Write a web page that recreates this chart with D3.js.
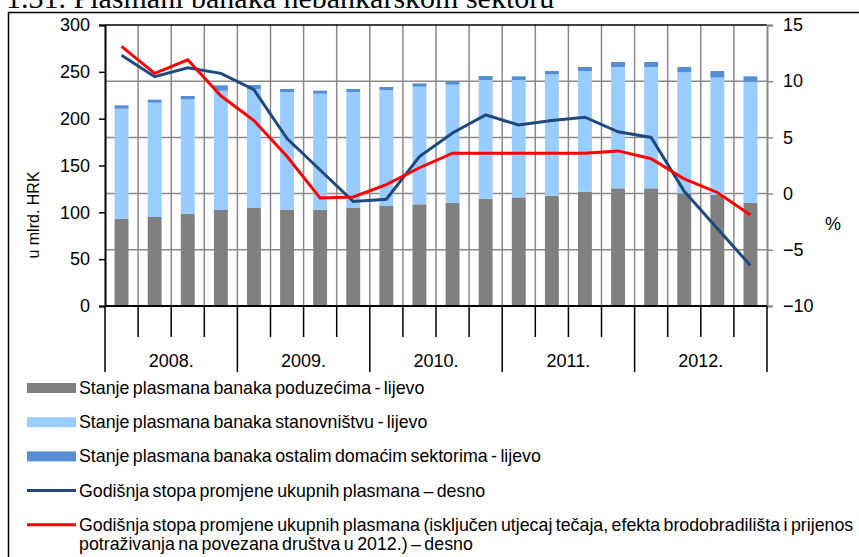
<!DOCTYPE html>
<html>
<head>
<meta charset="utf-8">
<script src="https://cdn.jsdelivr.net/npm/d3@7"></script>
<style>
    body { margin: 0; background: #fff; }
    text { font-family: "Liberation Sans", Arial, sans-serif; fill: #000; }
</style>
</head>
<body>
<div class="chart"></div>
<script>
// Data (quarters 2008 - 2012)
const years = ["2008.", "2009.", "2010.", "2011.", "2012."];
const quarters = ["I.", "II.", "III.", "IV."];

// stacked bars, left axis (mlrd. HRK)
const poduzecima = [93, 95, 98.6, 102.5, 104.6, 102.5, 102.5, 104.6, 106.8, 108.6,
    110.3, 114.6, 116, 117.8, 122, 125.6, 125.6, 120.3, 118.5, 110.3];
const stanovnistvu = [117.6, 122, 122, 127.4, 127.1, 126, 124.2, 123.9, 123.5, 125.5,
    126, 126.7, 125.3, 129.5, 128.9, 129.6, 129.6, 129.2, 125.3, 129.2];
const ostalim = [3.6, 3.3, 3.6, 5.7, 4.3, 3.2, 3.2, 3.2, 3.5, 3.6,
    3.6, 4.2, 3.9, 3.6, 4.3, 5.3, 5.3, 5.7, 7.1, 5.7];

// lines, right axis (%)
const stopaUkupno = [12.3, 10.4, 11.2, 10.7, 9.25, 4.9, 2.1, -0.7, -0.5, 3.3,
    5.4, 7.0, 6.1, 6.5, 6.8, 5.5, 5.0, 0.2, -3.1, -6.4];
const stopaBezUtjecaja = [13.1, 10.7, 11.9, 8.7, 6.5, 3.3, -0.4, -0.3, 0.8, 2.3,
    3.6, 3.6, 3.6, 3.6, 3.6, 3.8, 3.1, 1.3, 0.1, -1.9];

const leftTicks = [0, 50, 100, 150, 200, 250, 300];
const rightTicks = [-10, -5, 0, 5, 10, 15];

const legendItems = [
    {type: "bar", color: "#808080", text: ["Stanje plasmana banaka poduzećima - lijevo"]},
    {type: "bar", color: "#99ccff", text: ["Stanje plasmana banaka stanovništvu - lijevo"]},
    {type: "bar", color: "#558ed5", text: ["Stanje plasmana banaka ostalim domaćim sektorima - lijevo"]},
    {type: "line", color: "#1f497d", text: ["Godišnja stopa promjene ukupnih plasmana – desno"]},
    {type: "line", color: "#ff0000", text: ["Godišnja stopa promjene ukupnih plasmana (isključen utjecaj tečaja, efekta brodobradilišta i prijenos",
        "potraživanja na povezana društva u 2012.) – desno"]}
];

const W = 859, H = 557;
const Margin = {top: 25, right: 92, bottom: 251, left: 105},
    Width = W - Margin.left - Margin.right,
    Height = H - Margin.top - Margin.bottom;

const categories = [];
years.forEach(y => quarters.forEach(q => categories.push(y + " " + q)));

const data = categories.map((c, i) => ({
    cat: c,
    poduzecima: poduzecima[i],
    stanovnistvu: stanovnistvu[i],
    ostalim: ostalim[i],
    ukupno: stopaUkupno[i],
    bez: stopaBezUtjecaja[i]
}));

const svg = d3.select(".chart").append("svg")
    .attr("width", W).attr("height", H);

// title (cut off at the top in the original)
svg.append("text")
    .attr("x", 6).attr("y", 8)
    .style("font-family", "'Liberation Serif', 'Times New Roman', serif")
    .style("font-size", "30px")
    .text("1.31. Plasmani banaka nebankarskom sektoru");

// outer frame
svg.append("rect")
    .attr("x", 8.5).attr("y", 12.5)
    .attr("width", 900).attr("height", 600)
    .attr("fill", "none").attr("stroke", "#000").attr("stroke-width", 1.5);

const g = svg.append("g")
    .attr("transform", "translate(" + Margin.left + "," + Margin.top + ")");

const x = d3.scaleBand().domain(categories).range([0, Width])
    .paddingInner(0.58).paddingOuter(0.29);
const yL = d3.scaleLinear().domain([0, 300]).range([Height, 0]);
const yR = d3.scaleLinear().domain([-10, 15]).range([Height, 0]);
const step = x.step();
const x0 = x(categories[0]) - x.paddingOuter() * step;

// gridlines (right axis values) and vertical category lines
const gridColor = "#8a8a8a";
g.append("g").selectAll("line").data(rightTicks.slice(1, -1)).join("line")
    .attr("x1", 0).attr("x2", Width)
    .attr("y1", d => yR(d)).attr("y2", d => yR(d))
    .attr("stroke", gridColor).attr("stroke-width", 1.5);
g.append("g").selectAll("line").data(d3.range(1, categories.length)).join("line")
    .attr("x1", i => x0 + i * step).attr("x2", i => x0 + i * step)
    .attr("y1", 0).attr("y2", Height)
    .attr("stroke", gridColor).attr("stroke-width", 1.5);

// stacked bars
const keys = ["poduzecima", "stanovnistvu", "ostalim"];
const colors = ["#808080", "#99ccff", "#558ed5"];
const color = d3.scaleOrdinal().domain(keys).range(colors);
const stacked = d3.stack().keys(keys)(data);

g.append("g").selectAll("g").data(stacked).join("g")
    .attr("fill", d => color(d.key))
    .selectAll("rect").data(d => d).join("rect")
    .attr("x", d => x(d.data.cat))
    .attr("width", x.bandwidth())
    .attr("y", d => yL(d[1]))
    .attr("height", d => yL(d[0]) - yL(d[1]));

// lines
const lineFor = key => d3.line()
    .x(d => x(d.cat) + x.bandwidth() / 2)
    .y(d => yR(d[key]));

g.append("path").datum(data)
    .attr("fill", "none").attr("stroke", "#1f497d").attr("stroke-width", 3)
    .attr("d", lineFor("ukupno"));
g.append("path").datum(data)
    .attr("fill", "none").attr("stroke", "#ff0000").attr("stroke-width", 3)
    .attr("d", lineFor("bez"));

// top border of the plot
g.append("line").attr("x1", 0).attr("x2", Width).attr("y1", 0).attr("y2", 0)
    .attr("stroke", "#000").attr("stroke-width", 1.5);

// left axis
const leftAxis = g.append("g")
    .call(d3.axisLeft(yL).tickValues(leftTicks).tickSize(6).tickPadding(9));
leftAxis.select(".domain").attr("stroke", "#000").attr("stroke-width", 2);
leftAxis.selectAll(".tick line").attr("stroke", "#000").attr("stroke-width", 1.5);
leftAxis.selectAll("text").style("font-size", "18px").attr("font-family", null);

// right axis
const rightAxis = g.append("g")
    .attr("transform", "translate(" + Width + ",0)")
    .call(d3.axisRight(yR).tickValues(rightTicks).tickSize(6).tickPadding(10));
rightAxis.select(".domain").attr("stroke", gridColor).attr("stroke-width", 2);
rightAxis.selectAll(".tick line").attr("stroke", gridColor).attr("stroke-width", 1.5);
rightAxis.selectAll("text").style("font-size", "18px").attr("font-family", null);

// bottom axis with category ticks, long ticks between years
g.append("line").attr("x1", 0).attr("x2", Width).attr("y1", Height).attr("y2", Height)
    .attr("stroke", "#000").attr("stroke-width", 2);
g.append("g").selectAll("line").data(d3.range(0, categories.length + 1)).join("line")
    .attr("x1", i => x0 + i * step).attr("x2", i => x0 + i * step)
    .attr("y1", Height)
    .attr("y2", i => Height + (i % quarters.length === 0 ? 66 : 31))
    .attr("stroke", "#000").attr("stroke-width", 1.5);
g.append("g").selectAll("text").data(years).join("text")
    .attr("x", (d, i) => x0 + (i + 0.5) * quarters.length * step)
    .attr("y", Height + 61)
    .attr("text-anchor", "middle")
    .style("font-size", "18px")
    .text(d => d);

// axis titles
svg.append("text")
    .attr("transform", "translate(39,215) rotate(-90)")
    .attr("text-anchor", "middle")
    .style("font-size", "16px")
    .text("u mlrd. HRK");
svg.append("text")
    .attr("x", 833).attr("y", 230)
    .attr("text-anchor", "middle")
    .style("font-size", "18px")
    .text("%");

// legend
const legend = svg.append("g").attr("transform", "translate(27,388)");
const rowGap = 34.2;
legendItems.forEach((item, i) => {
    const row = legend.append("g").attr("transform", "translate(0," + (i * rowGap) + ")");
    if (item.type === "bar") {
        row.append("rect").attr("x", 0).attr("y", -5).attr("width", 49).attr("height", 10)
            .attr("fill", item.color);
    } else {
        row.append("line").attr("x1", 0).attr("x2", 49).attr("y1", 0).attr("y2", 0)
            .attr("stroke", item.color).attr("stroke-width", 3);
    }
    item.text.forEach((t, j) => {
        row.append("text")
            .attr("x", 52).attr("y", 6 + j * 19.5)
            .style("font-size", "17.8px")
            .style("word-spacing", "-1.5px")
            .text(t);
    });
});
</script>
</body>
</html>
